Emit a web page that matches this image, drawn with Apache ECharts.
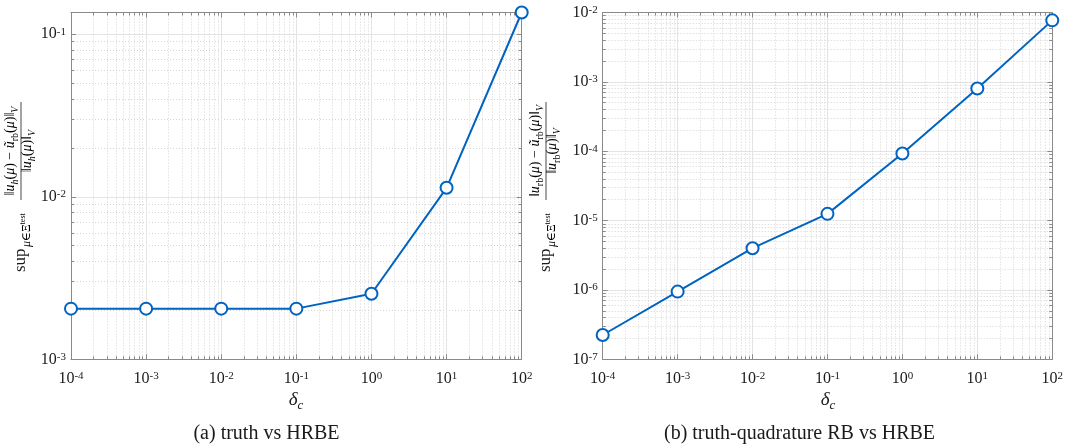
<!DOCTYPE html>
<html><head><meta charset="utf-8">
<script src="https://cdn.jsdelivr.net/npm/echarts@6/dist/echarts.min.js"></script>
<style>html,body{margin:0;padding:0;background:#fff}#c{width:1066px;height:448px}</style>
</head><body><div id="c"></div>
<script>
// ---- data ----
const deltaC = [1e-4, 1e-3, 1e-2, 1e-1, 1e0, 1e1, 1e2];
const errTruthHRBE = [2.05e-3, 2.05e-3, 2.05e-3, 2.05e-3, 2.53e-3, 1.135e-2, 0.136];
const errQuadHRBE = [2.24e-7, 9.46e-7, 4.0e-6, 1.25e-5, 9.27e-5, 8.03e-4, 7.7e-3];
const xTicks = [1e-4, 1e-3, 1e-2, 1e-1, 1e0, 1e1, 1e2];
const yTicksA = [1e-3, 1e-2, 1e-1];
const yTicksB = [1e-7, 1e-6, 1e-5, 1e-4, 1e-3, 1e-2];
const xRange = [1e-4, 1e2];
const yRangeA = [1e-3, 0.136];
const yRangeB = [1e-7, 1e-2];
const captionA = '(a) truth vs HRBE';
const captionB = '(b) truth-quadrature RB vs HRBE';

// ---- style ----
const AX = '#8a8a8a', GRID_MAJ = '#e4e4e4', GRID_MIN = '#d4d4d4', BLUE = '#0063c1', TXT = '#1a1a1a';
const SERIF = '"Liberation Serif", "DejaVu Serif", serif';

function minorVals(lo, hi) {
  const out = [];
  for (let e = Math.floor(Math.log10(lo)); e <= Math.ceil(Math.log10(hi)); e++)
    for (let k = 2; k <= 9; k++) {
      const v = k * Math.pow(10, e);
      if (v > lo * 1.0001 && v < hi * 0.9999) out.push(v);
    }
  return out;
}
function powLabel(v) { const e = Math.round(Math.log10(v)); return '{b|10}{s|' + (e < 0 ? '-' + (-e) : e) + '}'; }
const tickRich = {
  b: { fontFamily: SERIF, fontSize: 16, color: TXT, verticalAlign: 'bottom', padding: [0, 0, 0, 0] },
  s: { fontFamily: SERIF, fontSize: 11, color: TXT, verticalAlign: 'bottom', padding: [0, 0, 5, 0] }
};

function axes(dim, g, rng, ticks) {
  const minor = minorVals(rng[0], rng[1]);
  const pos = dim === 'x' ? ['bottom', 'top'] : ['left', 'right'];
  const base = { gridIndex: g, type: 'log', logBase: 10, min: rng[0], max: rng[1], silent: true,
    axisLabel: { show: false }, splitLine: { show: false }, axisLine: { show: false, onZero: false },
    axisTick: { show: false }, minorTick: { show: false }, minorSplitLine: { show: false } };
  return [
    Object.assign({}, base, { position: pos[0],
      axisLine: { show: true, onZero: false, lineStyle: { color: AX, width: 1 } },
      axisTick: { show: true, inside: true, length: 5, customValues: ticks, lineStyle: { color: AX } },
      axisLabel: { show: true, customValues: ticks, formatter: powLabel, rich: tickRich, margin: dim === 'x' ? 11 : 5 },
      splitLine: { show: true, lineStyle: { color: GRID_MAJ, width: 1 } } }),
    Object.assign({}, base, { position: pos[1],
      axisLine: { show: true, onZero: false, lineStyle: { color: AX, width: 1 } },
      axisTick: { show: true, inside: true, length: 5, customValues: ticks, lineStyle: { color: AX } } }),
    Object.assign({}, base, { position: pos[0],
      axisTick: { show: true, inside: true, length: 3, customValues: minor, lineStyle: { color: AX } },
      splitLine: { show: true, lineStyle: { color: GRID_MIN, width: 1, type: [1, 2] } } }),
    Object.assign({}, base, { position: pos[1],
      axisTick: { show: true, inside: true, length: 3, customValues: minor, lineStyle: { color: AX } } })
  ];
}

const mathRich = {
  n: { fontFamily: SERIF, fontSize: 14, color: TXT, verticalAlign: 'bottom', padding: [0, 0, 3, 0] },
  i: { fontFamily: SERIF, fontSize: 14, fontStyle: 'italic', color: TXT, verticalAlign: 'bottom', padding: [0, 0, 3, 0] },
  s: { fontFamily: SERIF, fontSize: 10, fontStyle: 'italic', color: TXT, verticalAlign: 'bottom', padding: [0, 0, 0, 0] },
  r: { fontFamily: SERIF, fontSize: 10, color: TXT, verticalAlign: 'bottom', padding: [0, 0, 0, 0] }
};
const subRich = {
  m: { fontFamily: SERIF, fontSize: 12, fontStyle: 'italic', color: TXT, verticalAlign: 'bottom', padding: [0, 0, 0, 0] },
  n: { fontFamily: SERIF, fontSize: 12, color: TXT, verticalAlign: 'bottom', padding: [0, 0, 0, 0] },
  t: { fontFamily: SERIF, fontSize: 8, color: TXT, verticalAlign: 'bottom', padding: [0, 0, 6, 0] }
};

function yLabel(x0, y0, num, den) {
  return { type: 'group', x: x0, y: y0, rotation: Math.PI / 2, silent: true, children: [
    { type: 'text', x: 0, y: 21, style: { text: 'sup', fontFamily: SERIF, fontSize: 17, fill: TXT, align: 'left', verticalAlign: 'middle', textAlign: 'left', textVerticalAlign: 'middle' } },
    { type: 'text', x: 25, y: 26, style: { text: '{m|μ}{n|∈Ξ}{t|test}', rich: subRich, align: 'left', verticalAlign: 'middle', textAlign: 'left', textVerticalAlign: 'middle' } },
    { type: 'text', x: 121, y: 12, style: { text: num, rich: mathRich, align: 'center', verticalAlign: 'middle', textAlign: 'center', textVerticalAlign: 'middle' } },
    { type: 'line', shape: { x1: 72, y1: 21, x2: 170, y2: 21 }, style: { stroke: TXT, lineWidth: 0.8 } },
    { type: 'text', x: 121, y: 29, style: { text: den, rich: mathRich, align: 'center', verticalAlign: 'middle', textAlign: 'center', textVerticalAlign: 'middle' } }
  ] };
}
const numA = '{n|‖}{i|u}{s|h}{n|(}{i|μ}{n|) − }{i|ũ}{r|rb}{n|(}{i|μ}{n|)‖}{s|V}';
const denA = '{n|‖}{i|u}{s|h}{n|(}{i|μ}{n|)‖}{s|V}';
const numB = '{n|‖}{i|u}{r|rb}{n|(}{i|μ}{n|) − }{i|ũ}{r|rb}{n|(}{i|μ}{n|)‖}{s|V}';
const denB = '{n|‖}{i|u}{r|rb}{n|(}{i|μ}{n|)‖}{s|V}';

const xNameRich = {
  d: { fontFamily: SERIF, fontSize: 19, fontStyle: 'italic', color: TXT, verticalAlign: 'bottom', padding: [0, 0, 3, 0] },
  c: { fontFamily: SERIF, fontSize: 13, fontStyle: 'italic', color: TXT, verticalAlign: 'bottom', padding: [0, 0, 0, 0] }
};
function textEl(x, y, text, rich, size) {
  return { type: 'text', x: x, y: y, silent: true, style: { text: text, rich: rich, fontFamily: SERIF, fontSize: size || 16, fill: TXT,
    align: 'center', verticalAlign: 'middle', textAlign: 'center', textVerticalAlign: 'middle' } };
}

const chart = echarts.init(document.getElementById('c'), null, { renderer: 'canvas' });
const lineSeries = (xi, yi, ys) => ({
  type: 'line', xAxisIndex: xi, yAxisIndex: yi, data: deltaC.map((x, i) => [x, ys[i]]),
  symbol: 'emptyCircle', symbolSize: 12, clip: false, z: 5,
  lineStyle: { color: BLUE, width: 2 }, itemStyle: { color: BLUE, borderColor: BLUE, borderWidth: 2 }
});
chart.setOption({
  animation: false,
  backgroundColor: '#fff',
  grid: [
    { left: 71, top: 12.5, width: 450.7, height: 346.8 },
    { left: 602.7, top: 12.5, width: 450.6, height: 346.8 }
  ],
  xAxis: [].concat(axes('x', 0, xRange, xTicks), axes('x', 1, xRange, xTicks)),
  yAxis: [].concat(axes('y', 0, yRangeA, yTicksA), axes('y', 1, yRangeB, yTicksB)),
  series: [ lineSeries(0, 0, errTruthHRBE), lineSeries(4, 4, errQuadHRBE) ],
  graphic: [
    yLabel(0, 272, numA, denA),
    yLabel(525, 272, numB, denB),
    textEl(296, 401, '{d|δ}{c|c}', xNameRich),
    textEl(828, 401, '{d|δ}{c|c}', xNameRich),
    textEl(266.5, 434, captionA, null, 20),
    textEl(799.5, 434, captionB, null, 20)
  ]
});
</script></body></html>
